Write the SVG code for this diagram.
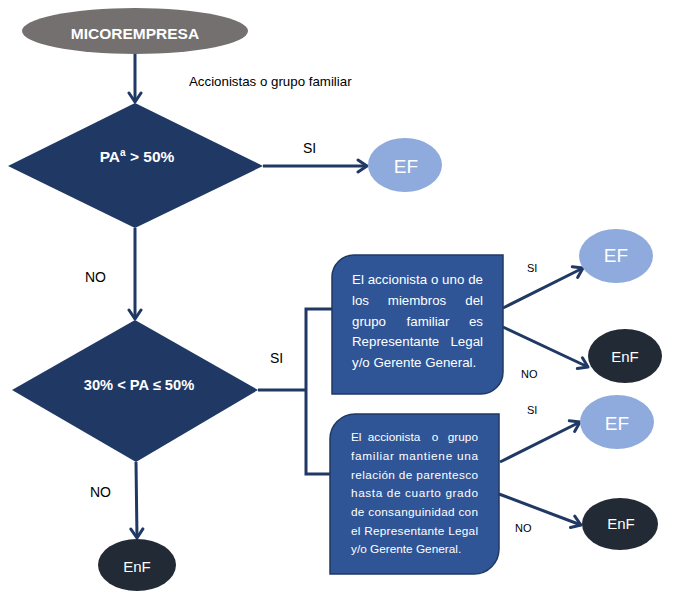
<svg xmlns="http://www.w3.org/2000/svg" width="693" height="599" viewBox="0 0 693 599">
<defs>
<marker id="arr" markerUnits="userSpaceOnUse" markerWidth="16" markerHeight="16" viewBox="0 0 16 16" refX="13" refY="8" orient="auto">
<path d="M4,2 L13,8 L4,14" fill="none" stroke="#203864" stroke-width="3" stroke-linecap="round" stroke-linejoin="round"/>
</marker>
</defs>
<style>
.t{font-family:"Liberation Sans",Arial,sans-serif;}
.w{fill:#ffffff;}
.b{font-weight:bold;}
.lbl{font-family:"Liberation Sans",Arial,sans-serif;fill:#000000;}
.ln{fill:none;stroke:#203864;stroke-width:3;}
.dia{fill:#1f3864;}
.box{fill:#2f5597;stroke:#1f3864;stroke-width:1.5;}
.ef{fill:#8faadc;}
.enf{fill:#222a35;}
.bt{font-family:"Liberation Sans",Arial,sans-serif;fill:#ffffff;font-size:13.3px;}
.bt2{font-family:"Liberation Sans",Arial,sans-serif;fill:#ffffff;font-size:11.8px;}
</style>
<rect width="693" height="599" fill="#ffffff"/>
<g id="connectors">
<line class="ln" x1="135" y1="53" x2="135" y2="102" marker-end="url(#arr)"/>
<line class="ln" x1="263" y1="166" x2="367" y2="166" marker-end="url(#arr)"/>
<line class="ln" x1="135" y1="228" x2="135" y2="319" marker-end="url(#arr)"/>
<polyline class="ln" points="258,390 306,390"/>
<polyline class="ln" points="332,309 306,309 306,474 330,474"/>
<line class="ln" x1="136" y1="462" x2="137" y2="538" marker-end="url(#arr)"/>
<line class="ln" x1="503" y1="308" x2="583" y2="268" marker-end="url(#arr)"/>
<line class="ln" x1="503" y1="327" x2="588" y2="367" marker-end="url(#arr)"/>
<line class="ln" x1="500" y1="462" x2="580" y2="422" marker-end="url(#arr)"/>
<line class="ln" x1="499" y1="494" x2="581" y2="525" marker-end="url(#arr)"/>
<text class="lbl" x="189" y="86" font-size="13.3">Accionistas o grupo familiar</text>
<text class="lbl" x="303" y="153" font-size="14">SI</text>
<text class="lbl" x="85" y="282" font-size="14">NO</text>
<text class="lbl" x="270" y="363" font-size="14">SI</text>
<text class="lbl" x="90" y="497" font-size="14">NO</text>
<text class="lbl" x="527" y="272" font-size="11">SI</text>
<text class="lbl" x="521" y="378" font-size="11">NO</text>
<text class="lbl" x="527" y="414" font-size="11">SI</text>
<text class="lbl" x="515" y="532" font-size="11">NO</text>
</g>
<g id="micro">
<ellipse cx="135" cy="31" rx="113" ry="23" fill="#747070"/>
<text class="t w b" x="135" y="39" font-size="15.5" text-anchor="middle">MICOREMPRESA</text>
</g>
<g id="d1">
<polygon class="dia" points="135,103 263,166 135,228 8,166"/>
<text class="t w b" x="137" y="162" font-size="15.5" text-anchor="middle">PA<tspan font-size="10" dy="-6">a</tspan><tspan dy="6"> &gt; 50%</tspan></text>
</g>
<g id="ef1">
<ellipse class="ef" cx="405" cy="165" rx="37" ry="27"/>
<text class="t w" x="406" y="173" font-size="19" text-anchor="middle">EF</text>
</g>
<g id="d2">
<polygon class="dia" points="135,320 258,390 136,462 12,390"/>
<text class="t w b" x="139" y="390" font-size="14.7" text-anchor="middle">30% &lt; PA ≤ 50%</text>
</g>
<g id="enf1">
<ellipse class="enf" cx="137" cy="565" rx="39" ry="26"/>
<text class="t w" x="137" y="572" font-size="15" text-anchor="middle">EnF</text>
</g>
<g id="box1">
<path class="box" d="M354,255 H503 V372 A22,22 0 0 1 481,394 H332 V277 A22,22 0 0 1 354,255 Z"/>
<text class="bt" x="352" y="284" textLength="131" lengthAdjust="spacing">El accionista o uno de</text>
<text class="bt" x="352" y="305">los</text>
<text class="bt" x="417" y="305" text-anchor="middle">miembros</text>
<text class="bt" x="483" y="305" text-anchor="end">del</text>
<text class="bt" x="352" y="326">grupo</text>
<text class="bt" x="428" y="326" text-anchor="middle">familiar</text>
<text class="bt" x="483" y="326" text-anchor="end">es</text>
<text class="bt" x="352" y="346">Representante</text>
<text class="bt" x="483" y="346" text-anchor="end">Legal</text>
<text class="bt" x="352" y="367">y/o Gerente General.</text>
</g>
<g id="box2">
<path class="box" d="M355,414 H499 V549 A25,25 0 0 1 474,574 H330 V439 A25,25 0 0 1 355,414 Z"/>
<text class="bt2" x="351" y="441">El</text>
<text class="bt2" x="394" y="441" text-anchor="middle">accionista</text>
<text class="bt2" x="435" y="441" text-anchor="middle">o</text>
<text class="bt2" x="478" y="441" text-anchor="end">grupo</text>
<text class="bt2" x="351" y="460" textLength="127" lengthAdjust="spacing">familiar mantiene una</text>
<text class="bt2" x="351" y="479" textLength="127" lengthAdjust="spacing">relación de parentesco</text>
<text class="bt2" x="351" y="497" textLength="127" lengthAdjust="spacing">hasta de cuarto grado</text>
<text class="bt2" x="351" y="516" textLength="127" lengthAdjust="spacing">de consanguinidad con</text>
<text class="bt2" x="351" y="535" textLength="127" lengthAdjust="spacing">el Representante Legal</text>
<text class="bt2" x="351" y="553">y/o Gerente General.</text>
</g>
<g id="ef2">
<ellipse class="ef" cx="616" cy="256" rx="37" ry="27"/>
<text class="t w" x="616" y="262" font-size="19" text-anchor="middle">EF</text>
</g>
<g id="enf2">
<ellipse class="enf" cx="625" cy="356" rx="37" ry="27"/>
<text class="t w" x="625" y="362" font-size="15" text-anchor="middle">EnF</text>
</g>
<g id="ef3">
<ellipse class="ef" cx="617" cy="422" rx="37" ry="27"/>
<text class="t w" x="617" y="430" font-size="19" text-anchor="middle">EF</text>
</g>
<g id="enf3">
<ellipse class="enf" cx="620" cy="524" rx="38" ry="26"/>
<text class="t w" x="621" y="529" font-size="15" text-anchor="middle">EnF</text>
</g>
</svg>
